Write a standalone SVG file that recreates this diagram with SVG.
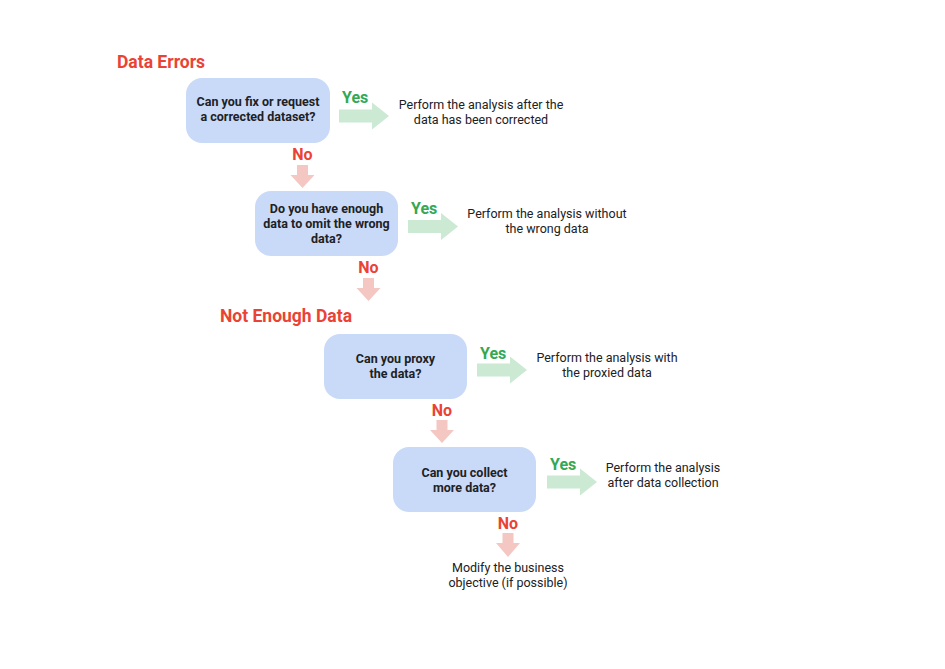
<svg xmlns="http://www.w3.org/2000/svg" width="945" height="669" viewBox="0 0 945 669">
<style>
.box{fill:#c9daf8;}
.q{font-family:Roboto,"Liberation Sans",sans-serif;font-weight:bold;font-size:12.5px;fill:#202124;text-anchor:middle;}
.r{font-family:Roboto,"Liberation Sans",sans-serif;font-size:12.5px;fill:#202124;text-anchor:middle;}
.sec{font-family:Roboto,"Liberation Sans",sans-serif;font-weight:bold;font-size:17.5px;fill:#ea4335;}
.yes{font-family:Roboto,"Liberation Sans",sans-serif;font-weight:bold;font-size:16px;fill:#34a853;}
.no{font-family:Roboto,"Liberation Sans",sans-serif;font-weight:bold;font-size:16px;fill:#ea4335;text-anchor:middle;}
.ya{fill:#cbe9d3;}
.na{fill:#f4c7c3;}
</style>
<rect width="945" height="669" fill="#ffffff"/>
<text class="sec" x="117" y="68">Data Errors</text>
<text class="sec" x="220" y="322">Not Enough Data</text>
<g id="connectors">
<polygon class="ya" points="339,109.5 372,109.5 372,102.5 389,116 372,129.5 372,122.5 339,122.5"/>
<polygon class="ya" points="408,220 441,220 441,213 458,226.5 441,240 441,233 408,233"/>
<polygon class="ya" points="477,363.5 510,363.5 510,356.5 527,370 510,383.5 510,376.5 477,376.5"/>
<polygon class="ya" points="547,475.5 580,475.5 580,468.5 597,482 580,495.5 580,488.5 547,488.5"/>
<polygon class="na" points="297,165 308,165 308,175 314.5,175 302.5,188 290.5,175 297,175"/>
<polygon class="na" points="363,278 374,278 374,288 380.5,288 368.5,301 356.5,288 363,288"/>
<polygon class="na" points="436.5,420 447.5,420 447.5,430 454,430 442,443 430,430 436.5,430"/>
<polygon class="na" points="502.5,533 513.5,533 513.5,543 520,543 508,557 496,543 502.5,543"/>
<text class="yes" x="342" y="103">Yes</text>
<text class="yes" x="411" y="214">Yes</text>
<text class="yes" x="480" y="359">Yes</text>
<text class="yes" x="550" y="470">Yes</text>
<text class="no" x="302.5" y="160">No</text>
<text class="no" x="368.5" y="273">No</text>
<text class="no" x="442" y="416">No</text>
<text class="no" x="508" y="529">No</text>
</g>
<g id="q1">
<rect class="box" x="186" y="78" width="144" height="65" rx="16"/>
<text class="q" x="258" y="106">Can you fix or request</text>
<text class="q" x="258" y="121">a corrected dataset?</text>
</g>
<g id="r1">
<text class="r" x="481" y="109">Perform the analysis after the</text>
<text class="r" x="481" y="124">data has been corrected</text>
</g>
<g id="q2">
<rect class="box" x="255" y="191" width="143" height="65" rx="16"/>
<text class="q" x="326.5" y="213">Do you have enough</text>
<text class="q" x="326.5" y="228">data to omit the wrong</text>
<text class="q" x="326.5" y="243">data?</text>
</g>
<g id="r2">
<text class="r" x="547" y="218">Perform the analysis without</text>
<text class="r" x="547" y="233">the wrong data</text>
</g>
<g id="q3">
<rect class="box" x="324" y="334" width="143" height="65" rx="16"/>
<text class="q" x="395.5" y="363">Can you proxy</text>
<text class="q" x="395.5" y="378">the data?</text>
</g>
<g id="r3">
<text class="r" x="607" y="362">Perform the analysis with</text>
<text class="r" x="607" y="377">the proxied data</text>
</g>
<g id="q4">
<rect class="box" x="393" y="447" width="143" height="65" rx="16"/>
<text class="q" x="464.5" y="477">Can you collect</text>
<text class="q" x="464.5" y="492">more data?</text>
</g>
<g id="r4">
<text class="r" x="663" y="472">Perform the analysis</text>
<text class="r" x="663" y="487">after data collection</text>
</g>
<g id="r5">
<text class="r" x="508" y="572">Modify the business</text>
<text class="r" x="508" y="587">objective (if possible)</text>
</g>
</svg>
